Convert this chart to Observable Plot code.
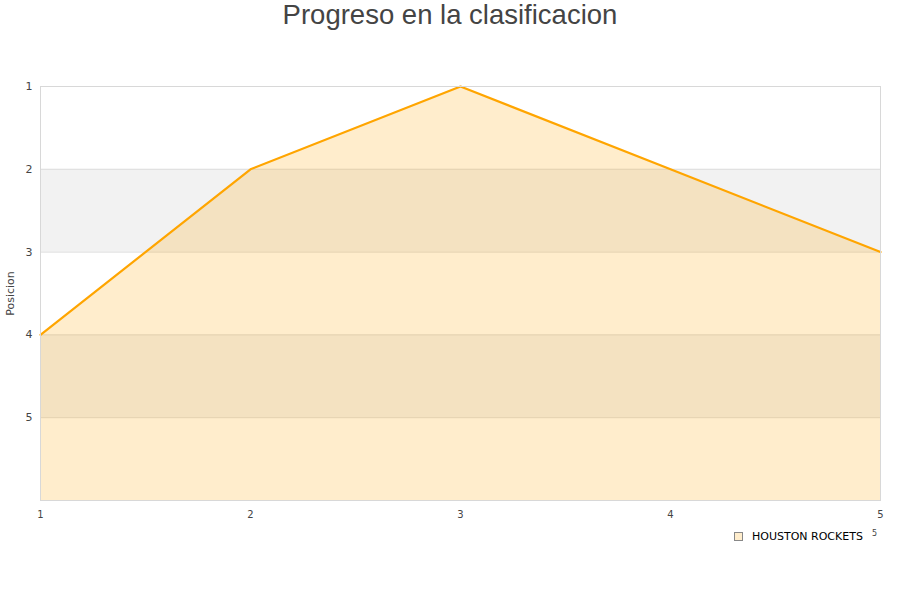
<!DOCTYPE html>
<html>
<head>
<meta charset="utf-8">
<script src="https://cdn.jsdelivr.net/npm/d3@7"></script>
<script src="https://cdn.jsdelivr.net/npm/@observablehq/plot@0.6"></script>
<style>
  html, body { margin: 0; padding: 0; background: #fff; }
  #wrap { position: relative; width: 900px; height: 600px; }
  #title {
    position: absolute; left: 0; top: -2px; width: 900px; text-align: center;
    font-family: "Liberation Sans", Arial, sans-serif; font-size: 27.5px; color: #444;
    line-height: 34px;
  }
  #legend {
    position: absolute; left: 734px; top: 530px;
    font-family: "DejaVu Sans", sans-serif; font-size: 11px; color: #000;
    display: flex; align-items: center;
  }
  #legend .sw { width: 7px; height: 7px; background: #ffedcc; border: 1px solid #888; margin-right: 9px; }
  #legend .note { font-size: 8px; color: #444; margin-left: 9px; position: relative; top: -3px; }
  svg { position: absolute; left: 0; top: 0; }
</style>
</head>
<body>
<div id="wrap">
  <div id="title">Progreso en la clasificacion</div>
  <div id="legend"><span class="sw"></span><span>HOUSTON ROCKETS</span><span class="note">5</span></div>
</div>
<script>
// Jornadas y posición en la clasificación
const rounds = [1, 2, 3, 4, 5];
const positions = [4, 2, 1, 2, 3];
const yTicks = [1, 2, 3, 4, 5];
// Bandas alternas del fondo
const bandStarts = [2, 4];
const bandEnds = [3, 5];

const data = rounds.map((r, i) => ({round: r, pos: positions[i]}));
const bands = bandStarts.map((s, i) => ({y1: s, y2: bandEnds[i]}));

const chart = Plot.plot({
  width: 900,
  height: 600,
  marginTop: 86,
  marginBottom: 100,
  marginLeft: 40,
  marginRight: 20,
  style: {fontFamily: "DejaVu Sans, sans-serif", fontSize: "11px", color: "#444", background: "transparent"},
  x: {domain: [1, 5]},
  y: {domain: [1, 6], reverse: true},
  marks: [
    Plot.rect(bands, {x1: 1, x2: 5, y1: "y1", y2: "y2", fill: "#f2f2f2"}),
    Plot.ruleY(yTicks, {stroke: "#dcdcdc", strokeWidth: 1}),
    Plot.areaY(data, {x: "round", y1: 6, y2: "pos", fill: "#ffa500", fillOpacity: 0.2}),
    Plot.lineY(data, {x: "round", y: "pos", stroke: "#ffa500", strokeWidth: 2.2}),
    Plot.frame({stroke: "#d8d8d8"}),
    Plot.axisY({ticks: yTicks, tickSize: 0, tickPadding: 8, tickFormat: d3.format("d"), label: "Posicion", labelAnchor: "center", labelArrow: "none", labelOffset: 34, fontSize: 11}),
    Plot.axisX({ticks: rounds, tickSize: 0, tickPadding: 10, tickFormat: d3.format("d"), label: null, fontSize: 10})
  ]
});
document.getElementById("wrap").appendChild(chart);
</script>
</body>
</html>
